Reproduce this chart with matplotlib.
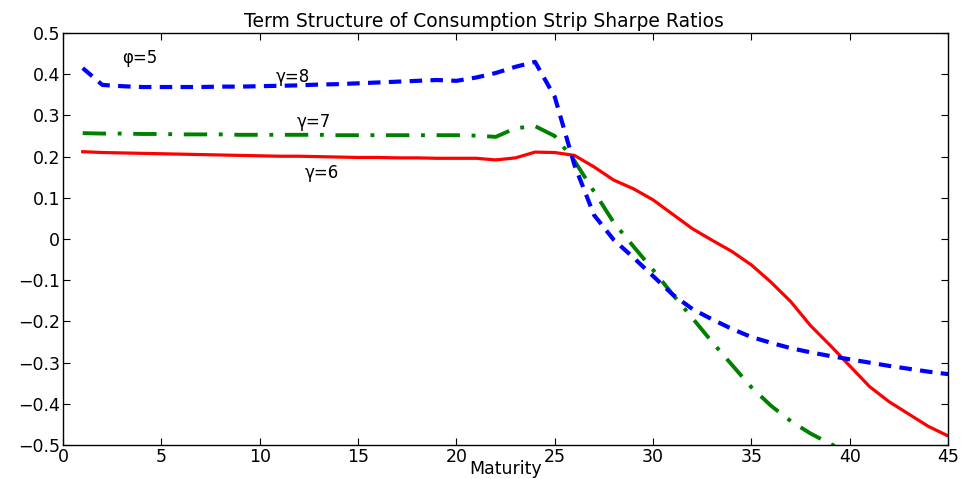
import matplotlib
matplotlib.use("Agg")
import matplotlib.pyplot as plt
import numpy as np

plt.rcParams['font.family'] = ['DejaVu Sans']

maturity = list(range(1, 46))

# gamma = 6 (solid red)
sr_g6 = [0.212, 0.210, 0.209, 0.208, 0.207, 0.206, 0.205, 0.204, 0.203, 0.202,
         0.201, 0.201, 0.200, 0.199, 0.198, 0.198, 0.197, 0.197, 0.196, 0.196,
         0.196, 0.192, 0.197, 0.211, 0.210, 0.203, 0.175, 0.143, 0.122, 0.095,
         0.060, 0.025, -0.003, -0.030, -0.063, -0.105, -0.152, -0.210, -0.258, -0.308,
         -0.358, -0.395, -0.425, -0.455, -0.478]

# gamma = 7 (dash-dot green)
sr_g7 = [0.257, 0.256, 0.256, 0.255, 0.255, 0.254, 0.254, 0.254, 0.253, 0.253,
         0.253, 0.253, 0.253, 0.252, 0.252, 0.252, 0.252, 0.252, 0.252, 0.252,
         0.251, 0.248, 0.269, 0.274, 0.250, 0.190, 0.115, 0.040, -0.018, -0.075,
         -0.135, -0.192, -0.250, -0.305, -0.360, -0.405, -0.442, -0.472, -0.497, -0.520,
         -0.540, -0.558, -0.574, -0.588, -0.600]

# gamma = 8 (dashed blue)
sr_g8 = [0.415, 0.374, 0.371, 0.369, 0.369, 0.369, 0.369, 0.370, 0.370, 0.371,
         0.372, 0.373, 0.375, 0.376, 0.378, 0.380, 0.382, 0.384, 0.386, 0.384,
         0.392, 0.403, 0.418, 0.430, 0.345, 0.180, 0.058, -0.002, -0.045, -0.090,
         -0.135, -0.170, -0.195, -0.218, -0.238, -0.252, -0.265, -0.275, -0.284, -0.292,
         -0.300, -0.308, -0.315, -0.322, -0.328]

x_ticks = list(range(0, 46, 5))
y_ticks = [0.5, 0.4, 0.3, 0.2, 0.1, 0, -0.1, -0.2, -0.3, -0.4, -0.5]
y_tick_labels = ['0.5', '0.4', '0.3', '0.2', '0.1', '0', '\u22120.1', '\u22120.2',
                 '\u22120.3', '\u22120.4', '\u22120.5']

fig = plt.figure(figsize=(9.61, 4.79), dpi=100)
ax = fig.add_axes([0.0656, 0.071, 0.921, 0.860])

ax.plot(maturity, sr_g6, color='red', linestyle='-', linewidth=2.3)
ax.plot(maturity, sr_g7, color='#008000', linestyle=(0, (6, 3, 1, 3)), linewidth=2.8)
ax.plot(maturity, sr_g8, color='blue', linestyle=(0, (3, 2)), linewidth=3.0)

ax.text(3.0, 0.44, '\u03c6=5', fontsize=12, ha='left', va='center')
ax.text(10.8, 0.393, '\u03b3=8', fontsize=12, ha='left', va='center')
ax.text(11.9, 0.283, '\u03b3=7', fontsize=12, ha='left', va='center')
ax.text(12.3, 0.16, '\u03b3=6', fontsize=12, ha='left', va='center')

ax.set_xlim(0, 45)
ax.set_ylim(-0.5, 0.5)
ax.set_xticks(x_ticks)
ax.set_yticks(y_ticks)
ax.set_yticklabels(y_tick_labels)
ax.tick_params(direction='in', top=True, right=True, labelsize=12.5, length=5, pad=2)
for s in ax.spines.values():
    s.set_linewidth(1.0)

ax.set_title('Term Structure of Consumption Strip Sharpe Ratios', fontsize=13.5,
             pad=4, x=0.475)
ax.set_xlabel('Maturity', fontsize=12.5, labelpad=-4)

fig.savefig('out.png', dpi=100)
